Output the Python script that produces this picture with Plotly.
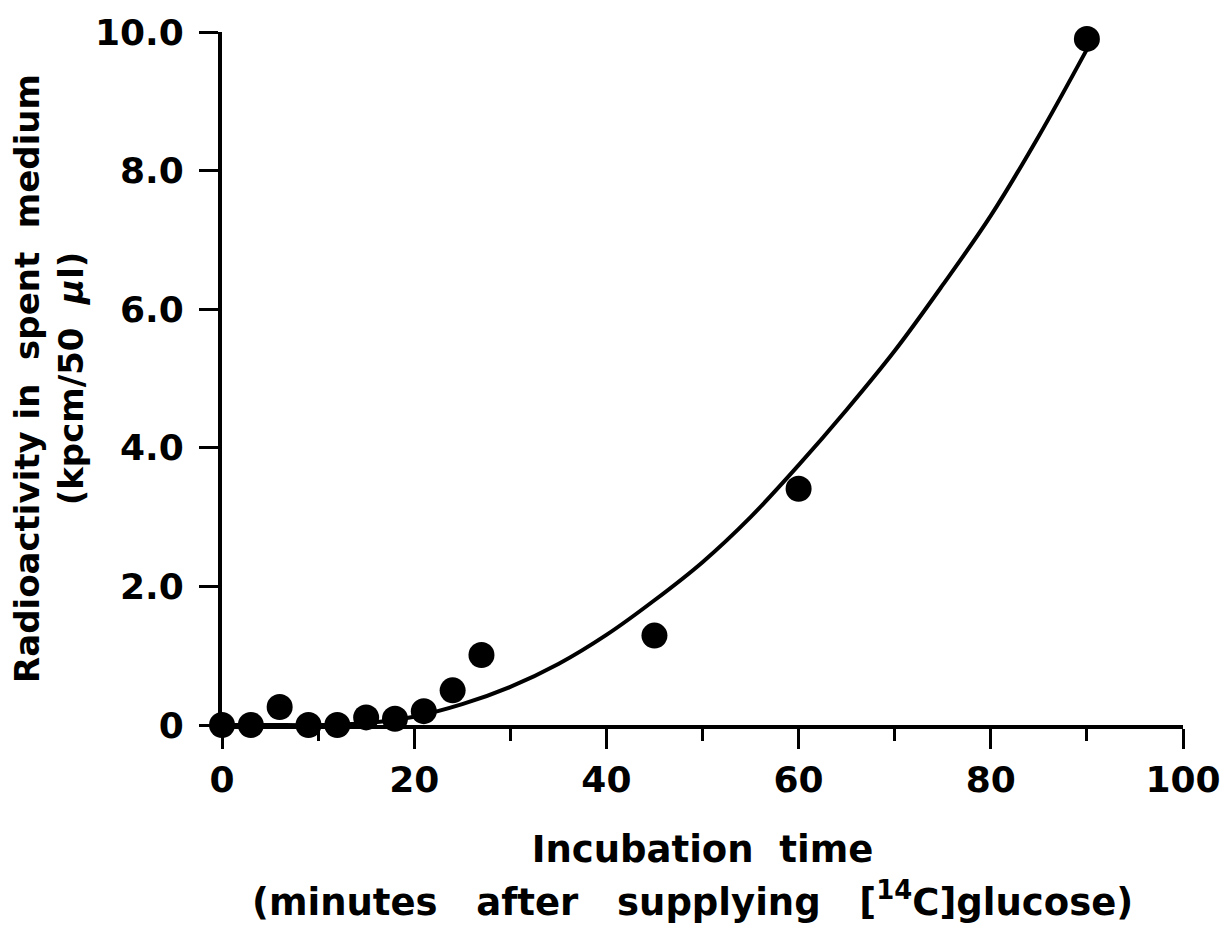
import plotly.graph_objects as go

# Measured data points
time_min = [0, 3, 6, 9, 12, 15, 18, 21, 24, 27, 45, 60, 90]
radioactivity = [0.0, 0.0, 0.26, 0.0, 0.0, 0.11, 0.09, 0.2, 0.5, 1.01, 1.29, 3.41, 9.9]

# Fitted curve
curve_x = [0, 5, 10, 15, 20, 25, 30, 35, 40, 45, 50, 55, 60, 65, 70, 75, 80, 85, 90]
curve_y = [0.0, 0.0, 0.0, 0.03, 0.12, 0.30, 0.55, 0.88, 1.30, 1.80, 2.35, 3.0, 3.75, 4.55, 5.4, 6.35, 7.35, 8.5, 9.75]

x_ticks = [0, 20, 40, 60, 80, 100]
x_ticktext = ["0", "20", "40", "60", "80", "100"]
x_minor = [10, 30, 50, 70, 90]
y_ticks = [0, 2, 4, 6, 8, 10]
y_ticktext = ["0", "2.0", "4.0", "6.0", "8.0", "10.0"]

FONT = "DejaVu Sans"
NB = "\u00a0"

x_title_1 = "Incubation" + NB + NB + "time"
x_title_2 = ("(minutes" + NB * 3 + "after" + NB * 3 + "supplying" + NB * 3 +
             "[<sup>14</sup>C]glucose)")
y_title = ("Radioactivity" + NB + "in" + NB + NB + "spent" + NB + NB + "medium<br>(kpcm/50" +
           NB + NB + "<i>\u03bc</i>l)")

fig = go.Figure()
fig.add_trace(go.Scatter(x=curve_x, y=curve_y, mode="lines",
                         line=dict(color="black", width=4, shape="spline", smoothing=1.0),
                         cliponaxis=False, showlegend=False, hoverinfo="skip"))
fig.add_trace(go.Scatter(x=time_min, y=radioactivity, mode="markers",
                         marker=dict(color="black", size=26, line=dict(width=0)),
                         cliponaxis=False, showlegend=False))

fig.update_layout(
    width=1225, height=938,
    margin=dict(l=222, r=42, t=32, b=213),
    paper_bgcolor="white", plot_bgcolor="white",
    font=dict(family=FONT, color="black"),
    xaxis=dict(
        range=[0, 100], tickvals=x_ticks, ticktext=x_ticktext, automargin=False,
        showline=True, linecolor="black", linewidth=4,
        ticks="outside", ticklen=20, tickwidth=3, tickcolor="black",
        minor=dict(tickvals=x_minor, ticks="outside", ticklen=12,
                   tickwidth=3, tickcolor="black", showgrid=False),
        showgrid=False, zeroline=False,
        tickfont=dict(family=FONT, size=36, weight="bold"),
        title=dict(text=x_title_1, font=dict(family=FONT, size=37, weight="bold"), standoff=38),
    ),
    yaxis=dict(
        range=[0, 10], tickvals=y_ticks, ticktext=y_ticktext, automargin=False,
        showline=True, linecolor="black", linewidth=4,
        ticks="outside", ticklen=19, tickwidth=3, tickcolor="black",
        ticklabelstandoff=8,
        showgrid=False, zeroline=False,
        tickfont=dict(family=FONT, size=36, weight="bold"),
        title=dict(text=y_title, font=dict(family=FONT, size=34, weight="bold"), standoff=2),
    ),
    annotations=[dict(
        text=x_title_2, xref="paper", yref="paper", x=0.49, y=-0.2525,
        xanchor="center", yanchor="middle", showarrow=False,
        font=dict(family=FONT, size=37, weight="bold", color="black"),
    )],
)

fig.write_html("out.html")
